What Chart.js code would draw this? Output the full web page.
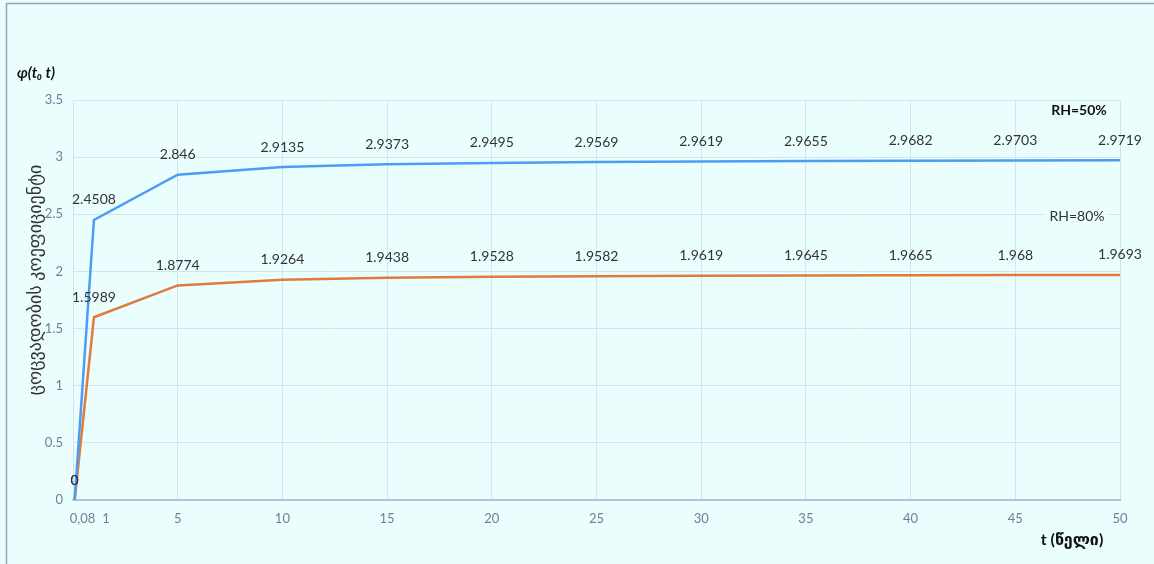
<!DOCTYPE html>
<html>
<head>
<meta charset="utf-8">
<script src="https://cdn.jsdelivr.net/npm/chart.js@4"></script>
<style>
  html, body { margin: 0; padding: 0; background: #eafefe; }
  #wrap { width: 1154px; height: 564px; position: relative; }
</style>
</head>
<body>
<div id="wrap"><canvas id="mychart" width="1154" height="564"></canvas></div>
<script>
// time in years
const years = [0.08, 1, 5, 10, 15, 20, 25, 30, 35, 40, 45, 50];
// creep coefficient, RH=50%
const rh50 = [0, 2.4508, 2.846, 2.9135, 2.9373, 2.9495, 2.9569, 2.9619, 2.9655, 2.9682, 2.9703, 2.9719];
// creep coefficient, RH=80%
const rh80 = [0, 1.5989, 1.8774, 1.9264, 1.9438, 1.9528, 1.9582, 1.9619, 1.9645, 1.9665, 1.968, 1.9693];
// x tick values and their labels
const xTicks = [0.08, 1, 5, 10, 15, 20, 25, 30, 35, 40, 45, 50];
const xTickLabels = ['0,08', '1', '5', '10', '15', '20', '25', '30', '35', '40', '45', '50'];

const FONT = "Lato, 'DejaVu Sans', sans-serif";
const GRID = '#d3e3f5';
const TICK = '#6f7f99';

// draws the frame, value labels and the titles
const extras = {
  id: 'extras',
  beforeDraw(chart) {
    const c = chart.ctx;
    c.save();
    c.fillStyle = '#eafefe';
    c.fillRect(0, 0, chart.width, chart.height);
    c.strokeStyle = '#97a3b3';
    c.lineWidth = 1.5;
    c.strokeRect(6.5, 3.5, chart.width + 10, chart.height + 10);
    c.restore();
  },
  afterDatasetsDraw(chart) {
    const c = chart.ctx;
    const xs = chart.scales.x;
    const area = chart.chartArea;
    c.save();
    c.font = '14px ' + FONT;
    c.fillStyle = '#333';
    c.textAlign = 'center';
    c.textBaseline = 'middle';
    chart.data.datasets.forEach((ds, i) => {
      chart.getDatasetMeta(i).data.forEach((pt, j) => {
        c.fillText(String(ds.data[j].y), pt.x, pt.y - 20);
      });
    });

    // the two crowded x labels near zero
    c.font = '13px ' + FONT;
    c.fillStyle = TICK;
    c.textAlign = 'left';
    c.fillText(xTickLabels[0], xs.getPixelForValue(xTicks[0]) - 5, area.bottom + 19);
    c.textAlign = 'center';
    c.fillText(xTickLabels[1], xs.getPixelForValue(xTicks[1]) + 12, area.bottom + 19);

    // series names
    c.font = 'bold 14px ' + FONT;
    c.fillStyle = '#111';
    c.fillText('RH=50%', 1079, 110);
    c.font = '14px ' + FONT;
    const w = c.measureText('RH=80%').width;
    c.fillStyle = '#eafefe';
    c.fillRect(1077 - w / 2 - 4, 206, w + 8, 20);
    c.fillStyle = '#333';
    c.fillText('RH=80%', 1077, 216);

    // y title
    c.font = 'italic bold 15px ' + FONT;
    c.fillStyle = '#111';
    c.textAlign = 'left';
    c.fillText('φ(t₀ t)', 17, 73);

    c.save();
    c.translate(35, 280);
    c.rotate(-Math.PI / 2);
    c.textAlign = 'center';
    c.font = '18px ' + FONT;
    c.fillStyle = '#333';
    c.fillText('ცოცვადობის კოეფიციენტი', 0, 0);
    c.restore();

    // x title
    c.font = 'bold 16px ' + FONT;
    c.fillStyle = '#111';
    c.textAlign = 'center';
    c.fillText('t (წელი)', 1072, 540);
    c.restore();
  }
};

const ctx = document.getElementById('mychart');

new Chart(ctx, {
  type: 'line',
  data: {
    datasets: [
      {
        label: 'RH=50%',
        data: years.map((t, i) => ({ x: t, y: rh50[i] })),
        borderColor: '#4b9cf2',
        borderWidth: 2.5,
        pointRadius: 0,
        tension: 0
      },
      {
        label: 'RH=80%',
        data: years.map((t, i) => ({ x: t, y: rh80[i] })),
        borderColor: '#e07b3c',
        borderWidth: 2.5,
        pointRadius: 0,
        tension: 0
      }
    ]
  },
  options: {
    responsive: false,
    animation: false,
    layout: { padding: { top: 100, right: 34, left: 0, bottom: 0 } },
    plugins: {
      legend: { display: false },
      tooltip: { enabled: false }
    },
    scales: {
      x: {
        type: 'linear',
        min: 0,
        max: 50,
        afterBuildTicks(scale) {
          scale.ticks = xTicks.map(v => ({ value: v }));
        },
        afterFit(scale) { scale.height = 64; },
        ticks: {
          autoSkip: false,
          maxRotation: 0,
          padding: 11,
          color: TICK,
          font: { family: FONT, size: 13 },
          callback: (v) => v < 2 ? '' : xTickLabels[xTicks.indexOf(v)]
        },
        grid: {
          color: (c) => (c.tick && c.tick.value < 2) ? 'rgba(0,0,0,0)' : GRID,
          drawTicks: false
        },
        border: { color: '#b4c2d6', width: 2 }
      },
      y: {
        min: 0,
        max: 3.5,
        afterFit(scale) { scale.width = 73; },
        ticks: {
          stepSize: 0.5,
          padding: 10,
          color: TICK,
          font: { family: FONT, size: 13 },
          callback: (v) => String(v)
        },
        grid: { color: GRID, drawTicks: false },
        border: { color: GRID, width: 1 }
      }
    }
  },
  plugins: [extras]
});
</script>
</body>
</html>
